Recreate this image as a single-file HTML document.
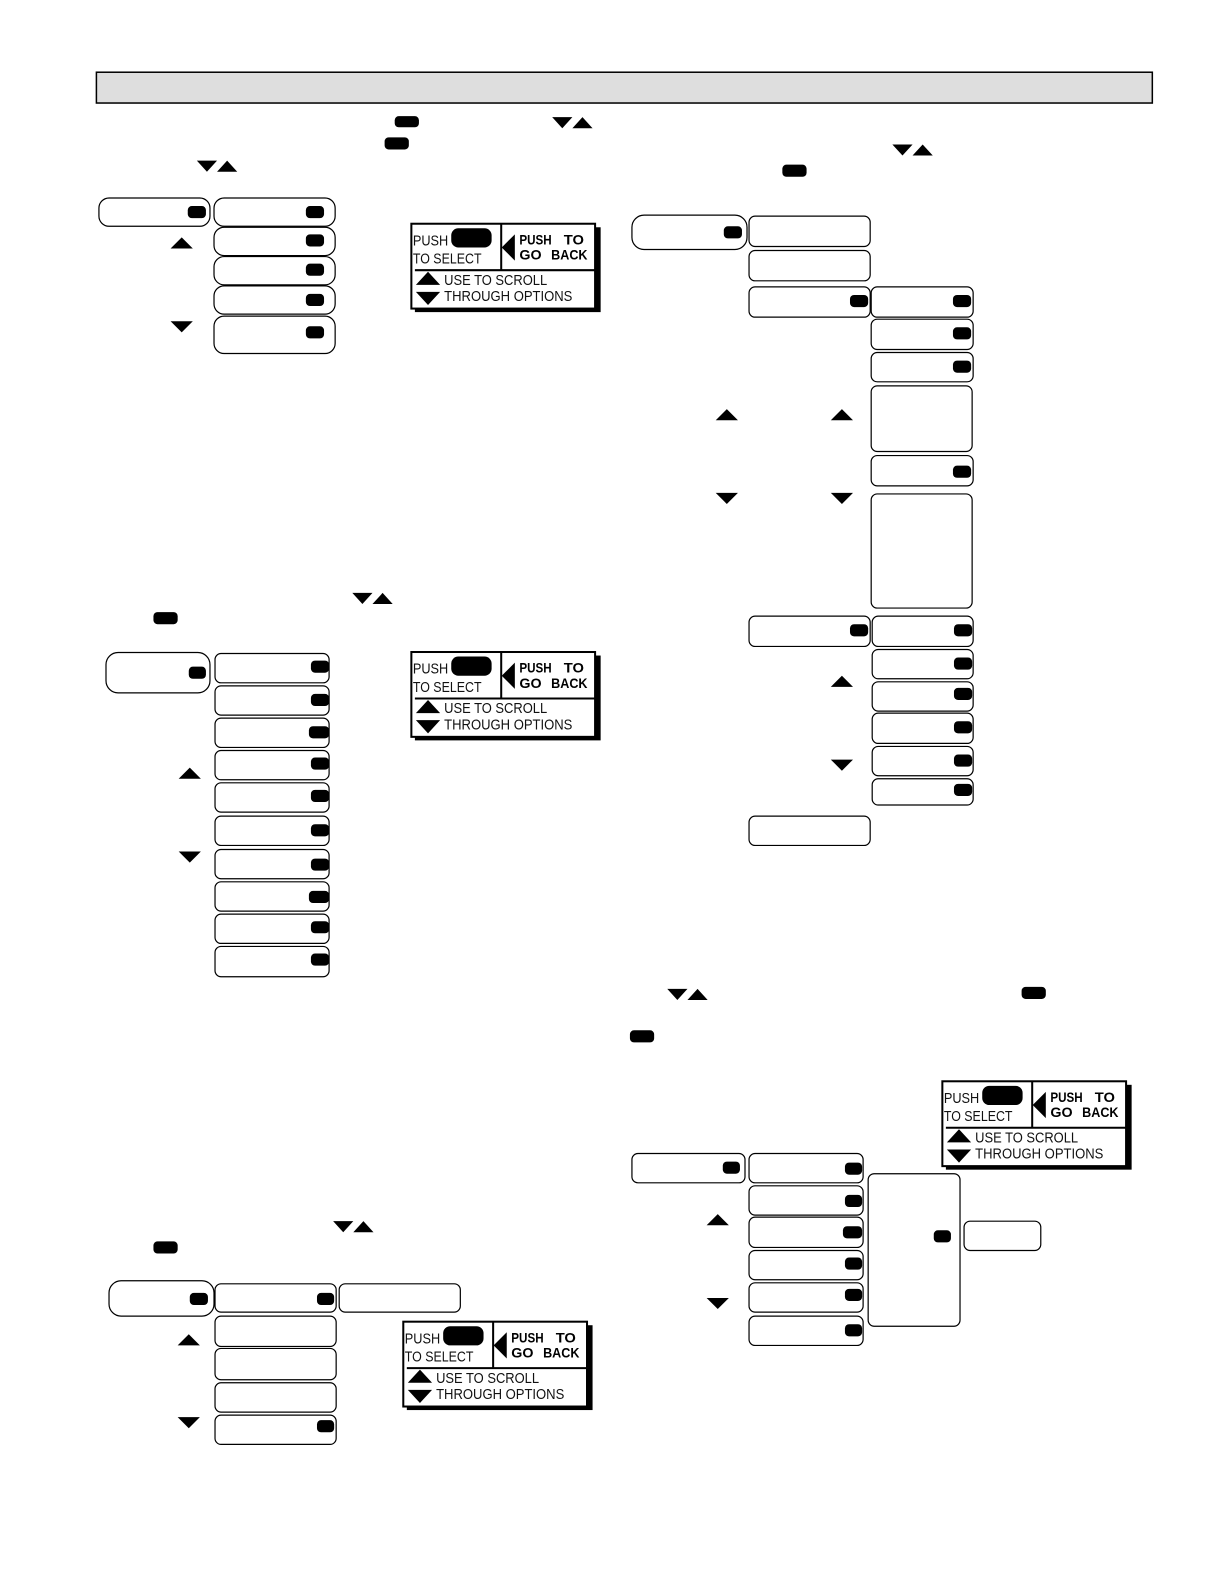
<!DOCTYPE html>
<html><head><meta charset="utf-8"><style>
html,body{margin:0;padding:0;background:#fff}
svg{display:block}
.b{fill:#fff;stroke:#000;stroke-width:1.2}
text{font-family:"Liberation Sans",sans-serif;fill:#000}
.n{font-size:15px;fill:#111}
.s{font-size:14px;font-weight:bold}
</style></head><body>
<svg width="1224" height="1584" viewBox="0 0 1212.5 1568.2" preserveAspectRatio="none" xmlns="http://www.w3.org/2000/svg">
<rect x="95.500" y="71.500" width="1046" height="30.500" fill="#dedede" stroke="#000" stroke-width="1.500"/>
<!-- text pills and arrow pairs -->
<g fill="#000">
<rect x="391" y="115" width="24" height="11" rx="4"/><rect x="381" y="136" width="24" height="12" rx="4"/>
<rect x="152" y="606" width="24" height="12" rx="4"/><rect x="152" y="1229" width="24" height="12" rx="4"/>
<rect x="775" y="163" width="24" height="12" rx="4"/><rect x="1012" y="977" width="24" height="12" rx="4"/><rect x="624" y="1020" width="24" height="12" rx="4"/>
<polygon points="547,116 567,116 557,127"/><polygon points="567,127 587,127 577,116"/>
<polygon points="195,159 215,159 205,170"/><polygon points="215,170 235,170 225,159"/>
<polygon points="349,587 369,587 359,598"/><polygon points="369,598 389,598 379,587"/>
<polygon points="330,1209 350,1209 340,1220"/><polygon points="350,1220 370,1220 360,1209"/>
<polygon points="884,143 904,143 894,154"/><polygon points="904,154 924,154 914,143"/>
<polygon points="661,979 681,979 671,990"/><polygon points="681,990 701,990 691,979"/>
<!-- scroll triangles -->
<polygon points="169,246 191,246 180,235"/><polygon points="169,318 191,318 180,329"/>
<polygon points="177,771 199,771 188,760"/><polygon points="177,843 199,843 188,854"/>
<polygon points="176,1332 198,1332 187,1321"/><polygon points="176,1403 198,1403 187,1414"/>
<polygon points="709,416 731,416 720,405"/><polygon points="823,416 845,416 834,405"/>
<polygon points="709,488 731,488 720,499"/><polygon points="823,488 845,488 834,499"/>
<polygon points="823,680 845,680 834,669"/><polygon points="823,752 845,752 834,763"/>
<polygon points="700,1213 722,1213 711,1202"/><polygon points="700,1285 722,1285 711,1296"/>
</g>
<!-- section 1 -->
<rect class="b" x="98" y="196" width="110" height="28" rx="10"/>
<rect class="b" x="212" y="196" width="120" height="28" rx="10"/>
<rect class="b" x="212" y="225" width="120" height="28" rx="10"/>
<rect class="b" x="212" y="254" width="120" height="28" rx="10"/>
<rect class="b" x="212" y="283" width="120" height="28" rx="10"/>
<rect class="b" x="212" y="313" width="120" height="37" rx="10"/>
<g fill="#000">
<rect x="186" y="204" width="18" height="12" rx="4"/>
<rect x="303" y="204" width="18" height="12" rx="4"/><rect x="303" y="232" width="18" height="12" rx="4"/><rect x="303" y="261" width="18" height="12" rx="4"/><rect x="303" y="291" width="18" height="12" rx="4"/><rect x="303" y="323" width="18" height="12" rx="4"/>
</g>
<!-- section 2 -->
<rect class="b" x="105" y="646" width="103" height="40" rx="12"/>
<rect class="b" x="213" y="647" width="113" height="29" rx="6"/>
<rect class="b" x="213" y="679" width="113" height="29" rx="6"/>
<rect class="b" x="213" y="711" width="113" height="29" rx="6"/>
<rect class="b" x="213" y="743" width="113" height="29" rx="6"/>
<rect class="b" x="213" y="775" width="113" height="29" rx="6"/>
<rect class="b" x="213" y="808" width="113" height="29" rx="6"/>
<rect class="b" x="213" y="841" width="113" height="29" rx="6"/>
<rect class="b" x="213" y="873" width="113" height="29" rx="6"/>
<rect class="b" x="213" y="905" width="113" height="29" rx="6"/>
<rect class="b" x="213" y="937" width="113" height="30" rx="6"/>
<g fill="#000">
<rect x="187" y="660" width="17" height="12" rx="4"/>
<rect x="308" y="654" width="18" height="12" rx="4"/><rect x="308" y="687" width="18" height="12" rx="4"/><rect x="306" y="719" width="20" height="12" rx="4"/><rect x="308" y="750" width="18" height="12" rx="4"/><rect x="308" y="782" width="18" height="12" rx="4"/><rect x="308" y="816" width="18" height="12" rx="4"/><rect x="308" y="850" width="18" height="12" rx="4"/><rect x="306" y="882" width="20" height="12" rx="4"/><rect x="308" y="912" width="18" height="12" rx="4"/><rect x="308" y="944" width="18" height="12" rx="4"/>
</g>
<!-- section 3 -->
<rect class="b" x="108" y="1268" width="104" height="35" rx="12"/>
<rect class="b" x="213" y="1271" width="120" height="28" rx="6"/>
<rect class="b" x="336" y="1271" width="120" height="28" rx="6"/>
<rect class="b" x="213" y="1303" width="120" height="30" rx="6"/>
<rect class="b" x="213" y="1335" width="120" height="31" rx="6"/>
<rect class="b" x="213" y="1369" width="120" height="29" rx="6"/>
<rect class="b" x="213" y="1401" width="120" height="29" rx="6"/>
<g fill="#000">
<rect x="188" y="1280" width="18" height="12" rx="4"/><rect x="314" y="1280" width="17" height="12" rx="4"/><rect x="314" y="1406" width="17" height="12" rx="4"/>
</g>
<!-- right section top -->
<rect class="b" x="626" y="213" width="114" height="34" rx="12"/>
<rect class="b" x="742" y="214" width="120" height="30" rx="6"/>
<rect class="b" x="742" y="248" width="120" height="30" rx="6"/>
<rect class="b" x="742" y="284" width="120" height="30" rx="6"/>
<rect class="b" x="742" y="610" width="120" height="30" rx="6"/>
<rect class="b" x="742" y="808" width="120" height="29" rx="6"/>
<rect class="b" x="863" y="284" width="101" height="30" rx="6"/>
<rect class="b" x="863" y="316" width="101" height="30" rx="6"/>
<rect class="b" x="863" y="349" width="101" height="29" rx="6"/>
<rect class="b" x="863" y="382" width="100" height="65" rx="6"/>
<rect class="b" x="863" y="451" width="101" height="30" rx="6"/>
<rect class="b" x="863" y="489" width="100" height="113" rx="6"/>
<rect class="b" x="864" y="610" width="100" height="30" rx="6"/>
<rect class="b" x="864" y="643" width="100" height="29" rx="6"/>
<rect class="b" x="864" y="675" width="100" height="29" rx="6"/>
<rect class="b" x="864" y="706" width="100" height="30" rx="6"/>
<rect class="b" x="864" y="739" width="100" height="29" rx="6"/>
<rect class="b" x="864" y="771" width="100" height="26" rx="6"/>
<g fill="#000">
<rect x="717" y="224" width="18" height="12" rx="4"/><rect x="842" y="292" width="18" height="12" rx="4"/><rect x="842" y="618" width="18" height="12" rx="4"/>
<rect x="944" y="292" width="18" height="12" rx="4"/><rect x="944" y="324" width="18" height="12" rx="4"/><rect x="944" y="357" width="18" height="12" rx="4"/><rect x="944" y="461" width="18" height="12" rx="4"/><rect x="945" y="618" width="18" height="12" rx="4"/><rect x="945" y="651" width="18" height="12" rx="4"/><rect x="945" y="681" width="18" height="12" rx="4"/><rect x="945" y="714" width="18" height="12" rx="4"/><rect x="945" y="747" width="18" height="12" rx="4"/><rect x="945" y="776" width="18" height="12" rx="4"/>
</g>
<!-- right section bottom -->
<rect class="b" x="626" y="1142" width="112" height="29" rx="6"/>
<rect class="b" x="742" y="1142" width="113" height="29" rx="6"/>
<rect class="b" x="742" y="1174" width="113" height="29" rx="6"/>
<rect class="b" x="742" y="1205" width="113" height="30" rx="6"/>
<rect class="b" x="742" y="1238" width="113" height="29" rx="6"/>
<rect class="b" x="742" y="1270" width="113" height="29" rx="6"/>
<rect class="b" x="742" y="1303" width="113" height="29" rx="6"/>
<rect class="b" x="860" y="1162" width="91" height="151" rx="6"/>
<rect class="b" x="955" y="1209" width="76" height="29" rx="6"/>
<g fill="#000">
<rect x="716" y="1150" width="17" height="12" rx="4"/>
<rect x="837" y="1151" width="17" height="12" rx="4"/><rect x="837" y="1183" width="17" height="12" rx="4"/><rect x="835" y="1214" width="19" height="12" rx="4"/><rect x="837" y="1245" width="17" height="12" rx="4"/><rect x="837" y="1276" width="17" height="12" rx="4"/><rect x="837" y="1311" width="17" height="12" rx="4"/>
<rect x="925" y="1218" width="17" height="12" rx="4"/>
</g>
<!-- legend 1 -->
<g transform="translate(407,221)">
<rect x="4" y="4" width="184" height="84" fill="#000"/>
<rect x="0.500" y="0.500" width="182" height="84" fill="#fff" stroke="#000" stroke-width="2"/>
<path d="M89.500 0V46M4 46.500H183" stroke="#000" stroke-width="2" fill="none"/>
<rect x="40" y="5" width="40" height="19" rx="7" fill="#000"/>
<polygon points="90,24 103,11 103,37" fill="#000"/>
<polygon points="5,61 29,61 17,48" fill="#000"/><polygon points="5,68 29,68 17,81" fill="#000"/>
<text class="n" x="2" y="22" textLength="35" lengthAdjust="spacingAndGlyphs">PUSH</text>
<text class="n" x="2" y="40" textLength="68" lengthAdjust="spacingAndGlyphs">TO SELECT</text>
<text class="s" x="107.500" y="21" textLength="32" lengthAdjust="spacingAndGlyphs">PUSH</text>
<text class="s" x="151.500" y="21" textLength="20" lengthAdjust="spacingAndGlyphs">TO</text>
<text class="s" x="107.500" y="36" textLength="22" lengthAdjust="spacingAndGlyphs">GO</text>
<text class="s" x="139" y="36" textLength="36" lengthAdjust="spacingAndGlyphs">BACK</text>
<text class="n" x="33" y="61" textLength="102" lengthAdjust="spacingAndGlyphs">USE TO SCROLL</text>
<text class="n" x="33" y="77" textLength="127" lengthAdjust="spacingAndGlyphs">THROUGH OPTIONS</text>
</g>
<!-- legend 2 -->
<g transform="translate(407,645)">
<rect x="4" y="4" width="184" height="84" fill="#000"/>
<rect x="0.500" y="0.500" width="182" height="84" fill="#fff" stroke="#000" stroke-width="2"/>
<path d="M89.500 0V46M4 46.500H183" stroke="#000" stroke-width="2" fill="none"/>
<rect x="40" y="5" width="40" height="19" rx="7" fill="#000"/>
<polygon points="90,24 103,11 103,37" fill="#000"/>
<polygon points="5,61 29,61 17,48" fill="#000"/><polygon points="5,68 29,68 17,81" fill="#000"/>
<text class="n" x="2" y="22" textLength="35" lengthAdjust="spacingAndGlyphs">PUSH</text>
<text class="n" x="2" y="40" textLength="68" lengthAdjust="spacingAndGlyphs">TO SELECT</text>
<text class="s" x="107.500" y="21" textLength="32" lengthAdjust="spacingAndGlyphs">PUSH</text>
<text class="s" x="151.500" y="21" textLength="20" lengthAdjust="spacingAndGlyphs">TO</text>
<text class="s" x="107.500" y="36" textLength="22" lengthAdjust="spacingAndGlyphs">GO</text>
<text class="s" x="139" y="36" textLength="36" lengthAdjust="spacingAndGlyphs">BACK</text>
<text class="n" x="33" y="61" textLength="102" lengthAdjust="spacingAndGlyphs">USE TO SCROLL</text>
<text class="n" x="33" y="77" textLength="127" lengthAdjust="spacingAndGlyphs">THROUGH OPTIONS</text>
</g>
<!-- legend 3 -->
<g transform="translate(399,1308)">
<rect x="4" y="4" width="184" height="84" fill="#000"/>
<rect x="0.500" y="0.500" width="182" height="84" fill="#fff" stroke="#000" stroke-width="2"/>
<path d="M89.500 0V46M4 46.500H183" stroke="#000" stroke-width="2" fill="none"/>
<rect x="40" y="5" width="40" height="19" rx="7" fill="#000"/>
<polygon points="90,24 103,11 103,37" fill="#000"/>
<polygon points="5,61 29,61 17,48" fill="#000"/><polygon points="5,68 29,68 17,81" fill="#000"/>
<text class="n" x="2" y="22" textLength="35" lengthAdjust="spacingAndGlyphs">PUSH</text>
<text class="n" x="2" y="40" textLength="68" lengthAdjust="spacingAndGlyphs">TO SELECT</text>
<text class="s" x="107.500" y="21" textLength="32" lengthAdjust="spacingAndGlyphs">PUSH</text>
<text class="s" x="151.500" y="21" textLength="20" lengthAdjust="spacingAndGlyphs">TO</text>
<text class="s" x="107.500" y="36" textLength="22" lengthAdjust="spacingAndGlyphs">GO</text>
<text class="s" x="139" y="36" textLength="36" lengthAdjust="spacingAndGlyphs">BACK</text>
<text class="n" x="33" y="61" textLength="102" lengthAdjust="spacingAndGlyphs">USE TO SCROLL</text>
<text class="n" x="33" y="77" textLength="127" lengthAdjust="spacingAndGlyphs">THROUGH OPTIONS</text>
</g>
<!-- legend 4 -->
<g transform="translate(933,1070)">
<rect x="4" y="4" width="184" height="84" fill="#000"/>
<rect x="0.500" y="0.500" width="182" height="84" fill="#fff" stroke="#000" stroke-width="2"/>
<path d="M89.500 0V46M4 46.500H183" stroke="#000" stroke-width="2" fill="none"/>
<rect x="40" y="5" width="40" height="19" rx="7" fill="#000"/>
<polygon points="90,24 103,11 103,37" fill="#000"/>
<polygon points="5,61 29,61 17,48" fill="#000"/><polygon points="5,68 29,68 17,81" fill="#000"/>
<text class="n" x="2" y="22" textLength="35" lengthAdjust="spacingAndGlyphs">PUSH</text>
<text class="n" x="2" y="40" textLength="68" lengthAdjust="spacingAndGlyphs">TO SELECT</text>
<text class="s" x="107.500" y="21" textLength="32" lengthAdjust="spacingAndGlyphs">PUSH</text>
<text class="s" x="151.500" y="21" textLength="20" lengthAdjust="spacingAndGlyphs">TO</text>
<text class="s" x="107.500" y="36" textLength="22" lengthAdjust="spacingAndGlyphs">GO</text>
<text class="s" x="139" y="36" textLength="36" lengthAdjust="spacingAndGlyphs">BACK</text>
<text class="n" x="33" y="61" textLength="102" lengthAdjust="spacingAndGlyphs">USE TO SCROLL</text>
<text class="n" x="33" y="77" textLength="127" lengthAdjust="spacingAndGlyphs">THROUGH OPTIONS</text>
</g>
</svg>
</body></html>
